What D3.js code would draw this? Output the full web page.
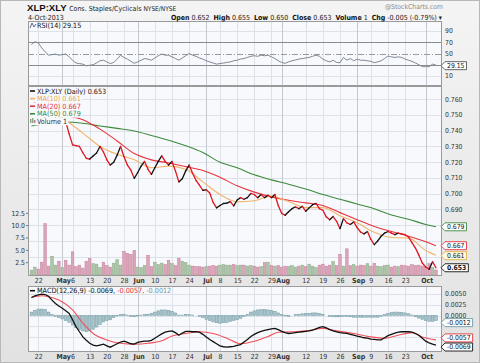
<!DOCTYPE html>
<html>
<head>
<meta charset="utf-8">
<script src="https://cdn.jsdelivr.net/npm/d3@7"></script>
<style>
  body { margin: 0; background: #fff; }
  svg text { font-family: "DejaVu Sans Condensed", "DejaVu Sans", Verdana, sans-serif; }
</style>
</head>
<body>
<svg id="chart" width="480" height="363"></svg>
<script>
// daily closes, XLP:XLY, 18 Apr 2013 .. 4 Oct 2013
const closes = [
  0.756, 0.758, 0.755, 0.751, 0.748, 0.746, 0.747, 0.748, 0.747, 0.748,
  0.7458, 0.738, 0.7310, 0.7305, 0.7300, 0.726, 0.7225, 0.7220, 0.7240, 0.7258,
  0.7300, 0.7265, 0.7215, 0.7182, 0.7200, 0.7245, 0.7300, 0.7235, 0.7182, 0.7150,
  0.7097, 0.7135, 0.7175, 0.7205, 0.7155, 0.7123, 0.7165, 0.7205, 0.7240, 0.7205,
  0.7182, 0.7205, 0.7145, 0.7075, 0.7095, 0.7145, 0.7182, 0.7130, 0.7085, 0.7055,
  0.7022, 0.7025, 0.7005, 0.6945, 0.6910, 0.6925, 0.6938, 0.6940, 0.6950, 0.6923,
  0.6960, 0.6975, 0.6965, 0.6975, 0.7002, 0.6995, 0.6975, 0.6995, 0.6975, 0.6990,
  0.6975, 0.6995, 0.6925, 0.6875, 0.6863, 0.6885, 0.6905, 0.6916, 0.6905, 0.6920,
  0.6889, 0.6910, 0.6930, 0.6938, 0.6905, 0.6895, 0.6853, 0.6835, 0.6855, 0.6825,
  0.6778, 0.6842, 0.6815, 0.6805, 0.6821, 0.6785, 0.6757, 0.6745, 0.6760, 0.6710,
  0.6677, 0.6700, 0.6730, 0.6750, 0.6760, 0.6750, 0.6740, 0.6750, 0.6745, 0.6740,
  0.6725, 0.6690, 0.6655, 0.6610, 0.6560, 0.6535, 0.6520, 0.6568, 0.6530
];

const volumes = [
  1.0, 1.6, 1.2, 2.6, 10.4, 1.8, 3.8, 2.0, 2.8, 1.5,
  3.0, 2.0, 4.7, 1.7, 2.0, 1.4, 2.8, 3.4, 2.3, 2.2,
  1.5, 2.6, 1.9, 1.6, 2.4, 3.1, 2.0, 4.8, 4.4, 4.2,
  5.0, 1.6, 1.5, 1.9, 4.0, 1.7, 2.6, 2.1, 2.4, 2.1,
  3.0, 2.3, 1.9, 3.4, 2.8, 2.5, 2.0, 1.8, 1.7, 1.7,
  1.6, 1.7, 1.8, 1.9, 1.8, 2.0, 2.1, 2.0, 2.0, 2.1,
  1.9, 2.0, 2.0, 1.8, 1.9, 1.8, 1.6, 1.7, 2.5, 2.6,
  1.9, 1.8, 1.9, 1.6, 1.8, 1.7, 1.9, 1.6, 1.8, 2.0,
  1.7, 2.2, 1.8, 1.5, 2.0, 2.2, 1.8, 2.0, 2.7, 1.9,
  4.2, 1.8, 5.3, 1.9, 2.1, 1.8, 2.0, 1.9, 2.3, 1.8,
  2.4, 1.8, 1.7, 1.9, 2.0, 1.6, 1.8, 1.7, 2.0, 1.9,
  1.8, 2.1, 1.9, 2.0, 1.8, 1.6, 2.3, 1.5, 1.0
];

// moving averages, read every 5 sessions
const maIndex = [0, 5, 10, 15, 20, 25, 30, 35, 40, 45, 50, 55, 60, 65, 70, 75, 80, 85, 90, 95, 100, 105, 110, 115, 118];
const ma10 = [0.7520, 0.7515, 0.7465, 0.7385, 0.7300, 0.7250, 0.7215, 0.7165, 0.7175, 0.7155, 0.7075, 0.6995, 0.6948,
  0.6955, 0.6985, 0.6950, 0.6912, 0.6912, 0.6860, 0.6815, 0.6755, 0.6722, 0.6718, 0.6640, 0.6610];
const ma20 = [0.7500, 0.7505, 0.7495, 0.7470, 0.7410, 0.7335, 0.7255, 0.7215, 0.7195, 0.7172, 0.7148, 0.7105, 0.7050,
  0.7010, 0.6980, 0.6958, 0.6942, 0.6925, 0.6880, 0.6835, 0.6792, 0.6760, 0.6730, 0.6695, 0.6670];
const ma50 = [0.7430, 0.7448, 0.7455, 0.7447, 0.7430, 0.7415, 0.7398, 0.7370, 0.7340, 0.7305, 0.7262, 0.7200, 0.7165,
  0.7120, 0.7088, 0.7060, 0.7030, 0.6995, 0.6965, 0.6935, 0.6905, 0.6865, 0.6838, 0.6805, 0.6790];

const rsi = [
  66, 71, 69, 60, 53, 47, 48, 49, 47, 48,
  49, 44, 38, 33, 32, 31, 28, 29, 30, 33,
  37, 38, 35, 32, 34, 40, 47, 43, 40, 36,
  32.5, 35, 38, 41, 40, 38, 42, 46, 49, 47,
  47, 44, 41, 38, 42, 46, 50, 47, 45, 42,
  40, 37, 35, 33, 31, 32, 33, 34, 35, 37,
  38, 40, 41, 43, 45, 46, 45, 47, 46, 47,
  44, 41, 37, 34, 32.5, 35, 37, 38.4, 40, 41,
  42, 43, 45, 47, 45, 40, 37, 35, 38, 34,
  33.6, 43, 38, 41, 37, 40, 38, 38, 37, 36,
  33.6, 35, 37, 41, 45.5, 44, 43, 44, 43, 40,
  38, 36, 33, 30, 26.5, 26.5, 26.5, 31, 29.15
];

const macd = [
  0.0042, 0.0046, 0.0048, 0.0050, 0.0049, 0.0045, 0.0036, 0.0028, 0.0022, 0.0017,
  0.0011, 0.0005, -0.0010, -0.0026, -0.0038, -0.0050, -0.0058, -0.0065, -0.0069, -0.0071,
  -0.0069, -0.0067, -0.0071, -0.0074, -0.0070, -0.0066, -0.0062, -0.0060, -0.0063, -0.0066,
  -0.0067, -0.0063, -0.0061, -0.0060, -0.0060, -0.0058, -0.0053, -0.0048, -0.0043, -0.0039,
  -0.0037, -0.0036, -0.0040, -0.0046, -0.0041, -0.0037, -0.0037, -0.0038, -0.0038, -0.0039,
  -0.0044, -0.0050, -0.0056, -0.0061, -0.0066, -0.0071, -0.0073, -0.0074, -0.0073, -0.0072,
  -0.0070, -0.0068, -0.0062, -0.0056, -0.0049, -0.0044, -0.0040, -0.0037, -0.0035, -0.0033,
  -0.0031, -0.0030, -0.0033, -0.0037, -0.0040, -0.0042, -0.0041, -0.0040, -0.0039, -0.0038,
  -0.0037, -0.0036, -0.0034, -0.0031, -0.0028, -0.0026, -0.0029, -0.0033, -0.0036, -0.0038,
  -0.0040, -0.0041, -0.0042, -0.0044, -0.0046, -0.0048, -0.0050, -0.0052, -0.0053, -0.0055,
  -0.0056, -0.0057, -0.0057, -0.0052, -0.0047, -0.0044, -0.0041, -0.0039, -0.0038, -0.0038,
  -0.0038, -0.0039, -0.0042, -0.0046, -0.0053, -0.0060, -0.0064, -0.0067, -0.0069
];

const signalIndex = [0, 3, 5, 8, 12, 15, 18, 22, 26, 30, 34, 38, 41, 45, 49, 53, 57, 61, 65, 69, 72, 76, 80, 85, 89, 94, 99, 103, 107, 111, 114, 118];
const signal = [0.0042, 0.0046, 0.0044, 0.0036, 0.0013, -0.0018, -0.0042, -0.0057, -0.0065, -0.0067, -0.0065, -0.0059,
  -0.0048, -0.0042, -0.0038, -0.0042, -0.0053, -0.0066, -0.0060, -0.0049, -0.0039, -0.0038, -0.0036, -0.0030, -0.0036,
  -0.0042, -0.0050, -0.0053, -0.0046, -0.0040, -0.0050, -0.0057];

const hist = [
  0.0008, 0.0012, 0.0015, 0.0015, 0.0014, 0.0008, 0.0002, -0.0002, -0.0005, -0.0008,
  -0.0012, -0.0016, -0.0022, -0.0028, -0.0033, -0.0036, -0.0038, -0.0036, -0.0032, -0.0027,
  -0.0021, -0.0015, -0.0012, -0.0010, -0.0005, -0.0001, 0.0002, 0.0003, 0.0001, -0.0002,
  -0.0003, -0.0001, 0.0001, 0.0002, 0.0003, 0.0005, 0.0008, 0.0011, 0.0013, 0.0013,
  0.0012, 0.0010, 0.0006, 0.0001, 0.0001, 0.0003, 0.0002, 0.0001, 0.0000, -0.0002,
  -0.0005, -0.0009, -0.0012, -0.0015, -0.0017, -0.0018, -0.0017, -0.0016, -0.0014, -0.0012,
  -0.0010, -0.0007, -0.0002, 0.0003, 0.0008, 0.0011, 0.0013, 0.0014, 0.0014, 0.0013,
  0.0012, 0.0010, 0.0006, 0.0002, -0.0001, -0.0002, 0.0000, 0.0002, 0.0003, 0.0004,
  0.0005, 0.0005, 0.0006, 0.0006, 0.0005, 0.0003, 0.0000, -0.0002, -0.0003, -0.0003,
  -0.0003, -0.0002, -0.0002, -0.0003, -0.0004, -0.0004, -0.0004, -0.0004, -0.0004, -0.0004,
  -0.0004, -0.0004, -0.0002, 0.0002, 0.0005, 0.0007, 0.0008, 0.0008, 0.0007, 0.0006,
  0.0004, 0.0001, -0.0003, -0.0006, -0.0009, -0.0012, -0.0014, -0.0014, -0.0012
];

const tickDates = ["2013-04-22", "2013-05-01", "2013-05-06", "2013-05-13", "2013-05-20", "2013-05-28", "2013-06-03",
  "2013-06-10", "2013-06-17", "2013-06-24", "2013-07-01", "2013-07-08", "2013-07-15", "2013-07-22", "2013-07-29",
  "2013-08-01", "2013-08-12", "2013-08-19", "2013-08-26", "2013-09-03", "2013-09-09", "2013-09-16", "2013-09-23", "2013-10-01"];
const tickLabels = ["22", "May", "6", "13", "20", "28", "Jun", "10", "17", "24", "Jul", "8", "15", "22", "29",
  "Aug", "12", "19", "26", "Sep", "9", "16", "23", "Oct"];
const monthNames = ["May", "Jun", "Jul", "Aug", "Sep", "Oct"];

const priceGrid = [0.660, 0.670, 0.680, 0.690, 0.700, 0.710, 0.720, 0.730, 0.740, 0.750, 0.760];
const priceTicks = [0.690, 0.700, 0.710, 0.720, 0.730, 0.740, 0.750, 0.760];   // lower ones sit under the value tags
const volumeTicks = [2.5, 5.0, 7.5, 10.0, 12.5];
const rsiTicks = [90, 70, 50, 10];
const macdGrid = [0.0050, 0.0025, 0.0000, -0.0025, -0.0050];
const macdTicks = [0.0050, 0.0025, 0.0000];

// trading calendar (weekdays minus market holidays)
const holidays = new Set(["2013-05-27", "2013-07-04", "2013-09-02"]);
const days = [];
for (let d = new Date(Date.UTC(2013, 3, 18)); d <= new Date(Date.UTC(2013, 9, 4)); d.setUTCDate(d.getUTCDate() + 1)) {
    const s = d.toISOString().slice(0, 10);
    const wd = d.getUTCDay();
    if (wd > 0 && wd < 6 && !holidays.has(s)) days.push(s);
}

const width = 480, height = 363;
const left = 28, right = 442;
const rsiTop = 21, rsiBottom = 86;
const mainTop = 86, mainBottom = 276;
const macdTop = 286, macdBottom = 352;

const svg = d3.select('#chart');

const x = d3.scaleLinear().domain([-1, 119.75]).range([left, right]);
const yRsi = d3.scaleLinear().domain([0, 100]).range([81.5, 25.5]);
const yPrice = d3.scaleLinear().domain([0.6484, 0.760]).range([275, 99.2]);
const yVol = d3.scaleLinear().domain([0, 12.5]).range([275, 213.3]);
const yMacd = d3.scaleLinear().domain([-0.0050, 0.0050]).range([336.9, 294.1]);

const tickIdx = tickDates.map(d => days.indexOf(d));
const isMonth = i => monthNames.includes(tickLabels[i]);

// background
const bg = svg.append('defs').append('linearGradient').attr('id', 'bg').attr('x1', 0).attr('x2', 0).attr('y1', 0).attr('y2', 1);
bg.append('stop').attr('offset', 0).attr('stop-color', '#f4f4f4');
bg.append('stop').attr('offset', 1).attr('stop-color', '#e2e2e2');
svg.append('rect').attr('width', width).attr('height', height).attr('fill', 'url(#bg)');
svg.append('rect').attr('x', 0.5).attr('y', 0.5).attr('width', width - 1).attr('height', height - 1)
    .attr('fill', 'none').attr('stroke', '#b8b8b8');

const panelFill = '#f8f9fc';
function panel(top, bottom, yTicks, yScale) {
    svg.append('rect').attr('x', left).attr('y', top).attr('width', right - left).attr('height', bottom - top)
        .attr('fill', panelFill);
    svg.append('g').selectAll('line').data(yTicks).join('line')
        .attr('x1', left).attr('x2', right)
        .attr('y1', d => Math.round(yScale(d)) + 0.5).attr('y2', d => Math.round(yScale(d)) + 0.5)
        .attr('stroke', '#dde1e8');
    svg.append('g').selectAll('line').data(tickIdx).join('line')
        .attr('x1', d => Math.round(x(d)) + 0.5).attr('x2', d => Math.round(x(d)) + 0.5)
        .attr('y1', top).attr('y2', bottom)
        .attr('stroke', (d, i) => isMonth(i) ? '#c4c8d0' : '#dde1e8');
}

panel(rsiTop, rsiBottom, [90, 10], yRsi);
panel(mainTop, mainBottom, priceGrid, yPrice);
panel(macdTop, macdBottom, macdGrid, yMacd);

// RSI reference lines
svg.append('g').selectAll('line').data([70, 30]).join('line')
    .attr('x1', left).attr('x2', right)
    .attr('y1', d => Math.round(yRsi(d)) + 0.5).attr('y2', d => Math.round(yRsi(d)) + 0.5)
    .attr('stroke', '#8a8a8a');
svg.append('line').attr('x1', left).attr('x2', right)
    .attr('y1', Math.round(yRsi(50)) + 0.5).attr('y2', Math.round(yRsi(50)) + 0.5)
    .attr('stroke', '#9a9a9a').attr('stroke-dasharray', '6,2,1,2');

svg.append('path').datum(rsi)
    .attr('d', d3.line().x((d, i) => x(i)).y(d => yRsi(d)))
    .attr('fill', 'none').attr('stroke', '#7f8894').attr('stroke-width', 1);

// volume bars
svg.append('g').selectAll('rect').data(volumes).join('rect')
    .attr('x', (d, i) => x(i) - 1.3).attr('width', 2.6)
    .attr('y', d => yVol(d)).attr('height', d => yVol(0) - yVol(d))
    .attr('fill', (d, i) => i > 0 && closes[i] < closes[i - 1] ? '#dba4b8' : '#adc4a8')
    .attr('stroke', (d, i) => i > 0 && closes[i] < closes[i - 1] ? '#c4809a' : '#8aa886')
    .attr('stroke-width', 0.5);

// moving averages
const maLine = d3.line().x((d, i) => x(maIndex[i])).y(d => yPrice(d)).curve(d3.curveMonotoneX);
svg.append('path').datum(ma50).attr('d', maLine).attr('fill', 'none').attr('stroke', '#3d8a3d').attr('stroke-width', 1.1);
svg.append('path').datum(ma20).attr('d', maLine).attr('fill', 'none').attr('stroke', '#e8323c').attr('stroke-width', 1.1);
svg.append('path').datum(ma10).attr('d', maLine).attr('fill', 'none').attr('stroke', '#f2b46a').attr('stroke-width', 1.1);

// price line, black on up days and red on down days
svg.append('g').selectAll('line').data(closes.slice(1)).join('line')
    .attr('x1', (d, i) => x(i)).attr('y1', (d, i) => yPrice(closes[i]))
    .attr('x2', (d, i) => x(i + 1)).attr('y2', d => yPrice(d))
    .attr('stroke', (d, i) => d >= closes[i] ? '#111' : '#e0141e')
    .attr('stroke-width', 1.3).attr('stroke-linecap', 'round');

// MACD
svg.append('g').selectAll('rect').data(hist).join('rect')
    .attr('x', (d, i) => x(i) - 1.3).attr('width', 2.6)
    .attr('y', d => Math.min(yMacd(d), yMacd(0))).attr('height', d => Math.abs(yMacd(d) - yMacd(0)))
    .attr('fill', '#a9c3ca').attr('stroke', '#6f98a3').attr('stroke-width', 0.5);
svg.append('path').datum(signal)
    .attr('d', d3.line().x((d, i) => x(signalIndex[i])).y(d => yMacd(d)).curve(d3.curveMonotoneX))
    .attr('fill', 'none').attr('stroke', '#f0505a').attr('stroke-width', 1.1);
svg.append('path').datum(macd)
    .attr('d', d3.line().x((d, i) => x(i)).y(d => yMacd(d)))
    .attr('fill', 'none').attr('stroke', '#111').attr('stroke-width', 1.3);

// panel borders
[[rsiTop, rsiBottom], [mainTop, mainBottom], [macdTop, macdBottom]].forEach(([t, b]) => {
    svg.append('rect').attr('x', left + 0.5).attr('y', t + 0.5).attr('width', right - left - 1).attr('height', b - t - 1)
        .attr('fill', 'none').attr('stroke', '#9a9a9a');
});

// date axes
[281, 357].forEach(yy => {
    svg.append('g').selectAll('text').data(tickIdx).join('text')
        .attr('x', (d, i) => x(d) + (isMonth(i) ? 1.5 : 0.5)).attr('y', yy).attr('dy', '0.35em')
        .attr('text-anchor', 'middle').attr('font-size', 7)
        .attr('font-weight', (d, i) => isMonth(i) ? 'bold' : 'normal')
        .attr('fill', '#333').text((d, i) => tickLabels[i]);
});

// right axes
function rightAxis(ticks, scale, fmt) {
    svg.append('g').selectAll('text').data(ticks).join('text')
        .attr('x', right + 3).attr('y', d => scale(d)).attr('dy', '0.35em')
        .attr('font-size', 6.8).attr('fill', '#333').text(fmt);
}
rightAxis(rsiTicks, yRsi, d => d);
rightAxis(priceTicks, yPrice, d3.format('.3f'));
rightAxis(macdTicks, yMacd, d3.format('.4f'));

// left volume axis
svg.append('g').selectAll('text').data(volumeTicks).join('text')
    .attr('x', left - 3).attr('y', d => yVol(d)).attr('dy', '0.35em').attr('text-anchor', 'end')
    .attr('font-size', 6.8).attr('fill', '#333').text(d3.format('.1f'));
svg.append('g').selectAll('line').data(volumeTicks).join('line')
    .attr('x1', left - 2).attr('x2', left).attr('y1', d => yVol(d)).attr('y2', d => yVol(d)).attr('stroke', '#777');

// value tags on right
function tag(y, txt, stroke, fill, bold) {
    const g = svg.append('g');
    const t = g.append('text').attr('x', right + 5).attr('y', y).attr('dy', '0.35em')
        .attr('font-size', 6.8).attr('font-weight', bold ? 'bold' : 'normal').attr('fill', '#111').text(txt);
    const w = t.node().getComputedTextLength();
    g.insert('path', 'text')
        .attr('d', `M${right - 1},${y} L${right + 3},${y - 4} H${right + 7 + w} V${y + 4} H${right + 3} Z`)
        .attr('fill', fill).attr('stroke', stroke).attr('stroke-width', 0.9);
}
tag(yRsi(29.15) + 0.5, '29.15', '#555', '#fff', false);
tag(yPrice(0.679), '0.679', '#3d8a3d', '#fff', false);
tag(yPrice(0.667), '0.667', '#e8323c', '#fff', false);
tag(yPrice(0.667) + 10, '0.661', '#e0b040', '#fffbe6', false);
tag(yPrice(0.653), '0.653', '#111', '#fff', true);
tag(yMacd(-0.0012) + 2, '-0.0012', '#6f98a3', '#fff', false);
tag(yMacd(-0.0057) - 2, '-0.0057', '#e8323c', '#fff', false);
tag(yMacd(-0.0069) + 2, '-0.0069', '#111', '#fff', false);

// legends with opaque backing
function legendRow(y, parts, icon) {
    const g = svg.append('g');
    const back = g.append('rect').attr('fill', panelFill);
    if (icon) g.append('line').attr('x1', 30).attr('x2', 35).attr('y1', y).attr('y2', y)
        .attr('stroke', icon).attr('stroke-width', 1.6);
    const t = g.append('text').attr('x', 37).attr('y', y).attr('dy', '0.35em').attr('font-size', 7.2);
    parts.forEach(([s, c]) => t.append('tspan').attr('fill', c).text(s));
    const w = t.node().getComputedTextLength();
    back.attr('x', 29).attr('y', y - 3.8).attr('width', w + 9).attr('height', 7.6);
    return g;
}
legendRow(91, [['XLP:XLY (Daily) 0.653', '#111']], '#111');
legendRow(98.6, [['MA(10) 0.661', '#e8a850']], '#f2b46a');
legendRow(106.2, [['MA(20) 0.667', '#e8323c']], '#e8323c');
legendRow(113.8, [['MA(50) 0.679', '#3d8a3d']], '#3d8a3d');
const vrow = legendRow(121.4, [['Volume 1', '#333']], null);
vrow.append('rect').attr('x', 30).attr('y', 119).attr('width', 1.5).attr('height', 4).attr('fill', '#8aa886');
vrow.append('rect').attr('x', 32).attr('y', 118).attr('width', 1.5).attr('height', 5).attr('fill', '#8aa886');
vrow.append('rect').attr('x', 34).attr('y', 120).attr('width', 1.5).attr('height', 3).attr('fill', '#c4809a');

// RSI legend
svg.append('text').attr('x', 37).attr('y', 25.5).attr('dy', '0.35em').attr('font-size', 7.2).attr('fill', '#111')
    .text('RSI(14) 29.15');
svg.append('path').attr('d', 'M30,28 L32,23 L34,27 L36,24').attr('fill', 'none').attr('stroke', '#5a6a8a');

// MACD legend
const ml = svg.append('text').attr('x', 37).attr('y', 290.7).attr('dy', '0.35em').attr('font-size', 7.2);
ml.append('tspan').attr('fill', '#111').text('MACD(12,26,9) -0.0069, ');
ml.append('tspan').attr('fill', '#e8323c').text('-0.0057, ');
ml.append('tspan').attr('fill', '#6f98a3').text('-0.0012');
svg.append('line').attr('x1', 30).attr('x2', 35).attr('y1', 290.7).attr('y2', 290.7).attr('stroke', '#111').attr('stroke-width', 1.6);

// header
const title = svg.append('text').attr('x', 27).attr('y', 11);
title.append('tspan').attr('font-family', '"Liberation Sans", Arial, sans-serif').attr('font-weight', 'bold')
    .attr('font-size', 9.6).attr('fill', '#111').text('XLP:XLY ');
title.append('tspan').attr('font-size', 7).attr('fill', '#222').text('Cons. Staples/Cyclicals ');
title.append('tspan').attr('font-size', 6.5).attr('fill', '#222').text('NYSE/NYSE');
svg.append('text').attr('x', 28).attr('y', 19.5).attr('font-size', 7).attr('fill', '#222').text('4-Oct-2013');
svg.append('text').attr('x', 443).attr('y', 9).attr('text-anchor', 'end').attr('font-size', 6.8)
    .attr('fill', '#8a8a8a').text('@StockCharts.com');

const quote = svg.append('text').attr('x', 442).attr('y', 19.5).attr('text-anchor', 'end').attr('font-size', 7).attr('fill', '#222');
[['Open', ' 0.652  '], ['High', ' 0.655  '], ['Low', ' 0.650  '], ['Close', ' 0.653  '], ['Volume', ' 1  '], ['Chg', ' -0.005 (-0.79%) \u25BE']]
    .forEach(([k, v]) => {
        quote.append('tspan').attr('font-weight', 'bold').attr('fill', '#111').text(k);
        quote.append('tspan').attr('xml:space', 'preserve').text(v);
    });
</script>
</body>
</html>
